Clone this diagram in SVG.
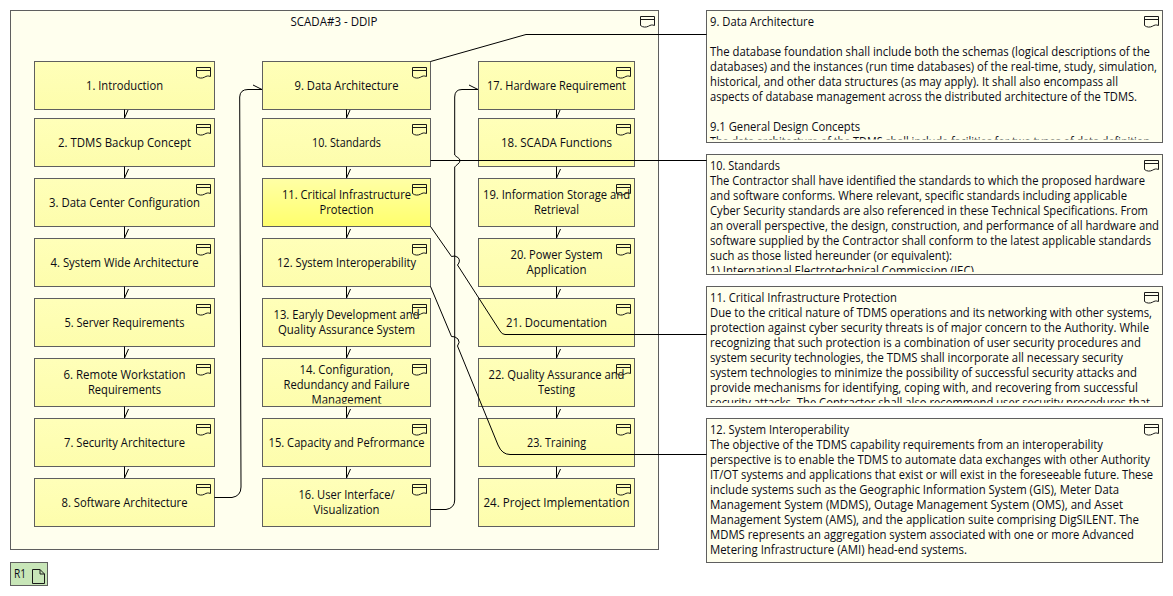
<svg xmlns="http://www.w3.org/2000/svg" xmlns:xlink="http://www.w3.org/1999/xlink" width="1173" height="596" viewBox="0 0 1173 596">
<style>
text{font-family:"Open Sans","Noto Sans","Liberation Sans",sans-serif;font-size:12px;fill:#0a0a14}
.c{text-anchor:middle}
.box{fill:url(#nodeFill);stroke:#5f5f5f;stroke-width:1}
.hot{fill:url(#hotFill);stroke:#5f5f5f;stroke-width:1}
.note{fill:#ffffee;stroke:#5f5f5f;stroke-width:1}
.frame{fill:#ffffee;stroke:#5f5f5f;stroke-width:1}
.icon{fill:none;stroke:#1a1a1a;stroke-width:1}
.line{fill:none;stroke:#000;stroke-width:1}
</style>
<defs>
<linearGradient id="nodeFill" x1="0" y1="0" x2="0" y2="1"><stop offset="0" stop-color="#ffffb9"/><stop offset="1" stop-color="#fdfdac"/></linearGradient>
<linearGradient id="hotFill" x1="0" y1="0" x2="0" y2="1"><stop offset="0" stop-color="#ffffa6"/><stop offset="1" stop-color="#ffff6c"/></linearGradient>
<symbol id="ni" overflow="visible"><path class="icon" d="M.5 .5H14.5V9.5C12 8.5 10.5 9 8.5 10.2C6 11.5 3 11.5 .5 9.5ZM.5 3.5H14.5"/></symbol>
<clipPath id="c1"><rect x="707" y="11" width="455" height="128.5"/></clipPath>
<clipPath id="c2"><rect x="707" y="155" width="455" height="117"/></clipPath>
<clipPath id="c3"><rect x="707" y="287" width="455" height="116"/></clipPath>
<clipPath id="c14"><rect x="263" y="359" width="167" height="44.5"/></clipPath>
</defs>

<g id="frame-ddip">
<rect class="frame" x="10.5" y="10.5" width="648" height="539"/>
<text class="c" x="334" y="26" textLength="87" lengthAdjust="spacingAndGlyphs">SCADA#3 - DDIP</text>
<use href="#ni" x="640" y="16"/>
</g>

<g id="n1"><rect class="box" x="34.5" y="61.5" width="180" height="48"/><text class="c" x="124.5" y="90" textLength="77" lengthAdjust="spacingAndGlyphs">1. Introduction</text><use href="#ni" x="196" y="67"/></g>
<g id="n2"><rect class="box" x="34.5" y="118.5" width="180" height="48"/><text class="c" x="124.5" y="147" textLength="133" lengthAdjust="spacingAndGlyphs">2. TDMS Backup Concept</text><use href="#ni" x="196" y="124"/></g>
<g id="n3"><rect class="box" x="34.5" y="178.5" width="180" height="48"/><text class="c" x="124.5" y="207" textLength="151" lengthAdjust="spacingAndGlyphs">3. Data Center Configuration</text><use href="#ni" x="196" y="184"/></g>
<g id="n4"><rect class="box" x="34.5" y="238.5" width="180" height="48"/><text class="c" x="124.5" y="267" textLength="148" lengthAdjust="spacingAndGlyphs">4. System Wide Architecture</text><use href="#ni" x="196" y="244"/></g>
<g id="n5"><rect class="box" x="34.5" y="298.5" width="180" height="48"/><text class="c" x="124.5" y="327" textLength="120" lengthAdjust="spacingAndGlyphs">5. Server Requirements</text><use href="#ni" x="196" y="304"/></g>
<g id="n6"><rect class="box" x="34.5" y="358.5" width="180" height="48"/><text class="c" x="124.5" y="379" textLength="122" lengthAdjust="spacingAndGlyphs">6. Remote Workstation</text><text class="c" x="124.5" y="394" textLength="73" lengthAdjust="spacingAndGlyphs">Requirements</text><use href="#ni" x="196" y="364"/></g>
<g id="n7"><rect class="box" x="34.5" y="418.5" width="180" height="48"/><text class="c" x="124.5" y="447" textLength="121" lengthAdjust="spacingAndGlyphs">7. Security Architecture</text><use href="#ni" x="196" y="424"/></g>
<g id="n8"><rect class="box" x="34.5" y="478.5" width="180" height="48"/><text class="c" x="124.5" y="507" textLength="126" lengthAdjust="spacingAndGlyphs">8. Software Architecture</text><use href="#ni" x="196" y="484"/></g>

<g id="n9"><rect class="box" x="262.5" y="61.5" width="168" height="48"/><text class="c" x="346.5" y="90" textLength="104" lengthAdjust="spacingAndGlyphs">9. Data Architecture</text><use href="#ni" x="412" y="67"/></g>
<g id="n10"><rect class="box" x="262.5" y="118.5" width="168" height="48"/><text class="c" x="346.5" y="147" textLength="69" lengthAdjust="spacingAndGlyphs">10. Standards</text><use href="#ni" x="412" y="124"/></g>
<g id="n11"><rect class="hot" x="262.5" y="178.5" width="168" height="48"/><text class="c" x="346.5" y="199" textLength="129" lengthAdjust="spacingAndGlyphs">11. Critical Infrastructure</text><text class="c" x="346.5" y="214" textLength="54" lengthAdjust="spacingAndGlyphs">Protection</text><use href="#ni" x="412" y="184"/></g>
<g id="n12"><rect class="box" x="262.5" y="238.5" width="168" height="48"/><text class="c" x="346.5" y="267" textLength="139" lengthAdjust="spacingAndGlyphs">12. System Interoperability</text><use href="#ni" x="412" y="244"/></g>
<g id="n13"><rect class="box" x="262.5" y="298.5" width="168" height="48"/><text class="c" x="346.5" y="319" textLength="146" lengthAdjust="spacingAndGlyphs">13. Earyly Development and</text><text class="c" x="346.5" y="334" textLength="137" lengthAdjust="spacingAndGlyphs">Quality Assurance System</text><use href="#ni" x="412" y="304"/></g>
<g id="n14"><rect class="box" x="262.5" y="358.5" width="168" height="48"/><g clip-path="url(#c14)"><text class="c" x="346.5" y="374" textLength="94" lengthAdjust="spacingAndGlyphs">14. Configuration,</text><text class="c" x="346.5" y="389" textLength="126" lengthAdjust="spacingAndGlyphs">Redundancy and Failure</text><text class="c" x="346.5" y="404" textLength="70" lengthAdjust="spacingAndGlyphs">Management</text></g><use href="#ni" x="412" y="364"/></g>
<g id="n15"><rect class="box" x="262.5" y="418.5" width="168" height="48"/><text class="c" x="346.5" y="447" textLength="156" lengthAdjust="spacingAndGlyphs">15. Capacity and Pefrormance</text><use href="#ni" x="412" y="424"/></g>
<g id="n16"><rect class="box" x="262.5" y="478.5" width="168" height="48"/><text class="c" x="346.5" y="499" textLength="96" lengthAdjust="spacingAndGlyphs">16. User Interface/</text><text class="c" x="346.5" y="514" textLength="66" lengthAdjust="spacingAndGlyphs">Visualization</text><use href="#ni" x="412" y="484"/></g>

<g id="n17"><rect class="box" x="478.5" y="61.5" width="156" height="48"/><text class="c" x="556.5" y="90" textLength="139" lengthAdjust="spacingAndGlyphs">17. Hardware Requirement</text><use href="#ni" x="616" y="67"/></g>
<g id="n18"><rect class="box" x="478.5" y="118.5" width="156" height="48"/><text class="c" x="556.5" y="147" textLength="111" lengthAdjust="spacingAndGlyphs">18. SCADA Functions</text><use href="#ni" x="616" y="124"/></g>
<g id="n19"><rect class="box" x="478.5" y="178.5" width="156" height="48"/><text class="c" x="556.5" y="199" textLength="147" lengthAdjust="spacingAndGlyphs">19. Information Storage and</text><text class="c" x="556.5" y="214" textLength="45" lengthAdjust="spacingAndGlyphs">Retrieval</text><use href="#ni" x="616" y="184"/></g>
<g id="n20"><rect class="box" x="478.5" y="238.5" width="156" height="48"/><text class="c" x="556.5" y="259" textLength="92" lengthAdjust="spacingAndGlyphs">20. Power System</text><text class="c" x="556.5" y="274" textLength="60" lengthAdjust="spacingAndGlyphs">Application</text><use href="#ni" x="616" y="244"/></g>
<g id="n21"><rect class="box" x="478.5" y="298.5" width="156" height="48"/><text class="c" x="556.5" y="327" textLength="101" lengthAdjust="spacingAndGlyphs">21. Documentation</text><use href="#ni" x="616" y="304"/></g>
<g id="n22"><rect class="box" x="478.5" y="358.5" width="156" height="48"/><text class="c" x="556.5" y="379" textLength="136" lengthAdjust="spacingAndGlyphs">22. Quality Assurance and</text><text class="c" x="556.5" y="394" textLength="37" lengthAdjust="spacingAndGlyphs">Testing</text><use href="#ni" x="616" y="364"/></g>
<g id="n23"><rect class="box" x="478.5" y="418.5" width="156" height="48"/><text class="c" x="556.5" y="447" textLength="59" lengthAdjust="spacingAndGlyphs">23. Training</text><use href="#ni" x="616" y="424"/></g>
<g id="n24"><rect class="box" x="478.5" y="478.5" width="156" height="48"/><text class="c" x="556.5" y="507" textLength="146" lengthAdjust="spacingAndGlyphs">24. Project Implementation</text><use href="#ni" x="616" y="484"/></g>

<g id="note9"><rect class="note" x="706.5" y="10.5" width="456" height="132"/><g clip-path="url(#c1)">
<text x="710" y="26" textLength="104" lengthAdjust="spacingAndGlyphs">9. Data Architecture</text>
<text x="710" y="56" textLength="440" lengthAdjust="spacingAndGlyphs">The database foundation shall include both the schemas (logical descriptions of the</text>
<text x="710" y="71" textLength="447" lengthAdjust="spacingAndGlyphs">databases) and the instances (run time databases) of the real-time, study, simulation,</text>
<text x="710" y="86" textLength="408" lengthAdjust="spacingAndGlyphs">historical, and other data structures (as may apply). It shall also encompass all</text>
<text x="710" y="101" textLength="427" lengthAdjust="spacingAndGlyphs">aspects of database management across the distributed architecture of the TDMS.</text>
<text x="710" y="131" textLength="150" lengthAdjust="spacingAndGlyphs">9.1 General Design Concepts</text>
<text x="710" y="146" textLength="440" lengthAdjust="spacingAndGlyphs">The data architecture of the TDMS shall include facilities for two types of data definition</text>
</g><use href="#ni" x="1144" y="16"/></g>

<g id="note10"><rect class="note" x="706.5" y="154.5" width="456" height="120"/><g clip-path="url(#c2)">
<text x="710" y="170" textLength="70" lengthAdjust="spacingAndGlyphs">10. Standards</text>
<text x="710" y="185" textLength="435" lengthAdjust="spacingAndGlyphs">The Contractor shall have identified the standards to which the proposed hardware</text>
<text x="710" y="200" textLength="417" lengthAdjust="spacingAndGlyphs">and software conforms. Where relevant, specific standards including applicable</text>
<text x="710" y="215" textLength="438" lengthAdjust="spacingAndGlyphs">Cyber Security standards are also referenced in these Technical Specifications. From</text>
<text x="710" y="230" textLength="449" lengthAdjust="spacingAndGlyphs">an overall perspective, the design, construction, and performance of all hardware and</text>
<text x="710" y="245" textLength="441" lengthAdjust="spacingAndGlyphs">software supplied by the Contractor shall conform to the latest applicable standards</text>
<text x="710" y="260" textLength="242" lengthAdjust="spacingAndGlyphs">such as those listed hereunder (or equivalent):</text>
<text x="710" y="275" textLength="264" lengthAdjust="spacingAndGlyphs">1) International Electrotechnical Commission (IEC)</text>
</g><use href="#ni" x="1144" y="160"/></g>

<g id="note11"><rect class="note" x="706.5" y="286.5" width="456" height="120"/><g clip-path="url(#c3)">
<text x="710" y="302" textLength="187" lengthAdjust="spacingAndGlyphs">11. Critical Infrastructure Protection</text>
<text x="710" y="317" textLength="442" lengthAdjust="spacingAndGlyphs">Due to the critical nature of TDMS operations and its networking with other systems,</text>
<text x="710" y="332" textLength="439" lengthAdjust="spacingAndGlyphs">protection against cyber security threats is of major concern to the Authority. While</text>
<text x="710" y="347" textLength="431" lengthAdjust="spacingAndGlyphs">recognizing that such protection is a combination of user security procedures and</text>
<text x="710" y="362" textLength="413" lengthAdjust="spacingAndGlyphs">system security technologies, the TDMS shall incorporate all necessary security</text>
<text x="710" y="377" textLength="427" lengthAdjust="spacingAndGlyphs">system technologies to minimize the possibility of successful security attacks and</text>
<text x="710" y="392" textLength="428" lengthAdjust="spacingAndGlyphs">provide mechanisms for identifying, coping with, and recovering from successful</text>
<text x="710" y="407" textLength="440" lengthAdjust="spacingAndGlyphs">security attacks. The Contractor shall also recommend user security procedures that</text>
</g><use href="#ni" x="1144" y="292"/></g>

<g id="note12"><rect class="note" x="706.5" y="418.5" width="456" height="144"/>
<text x="710" y="434" textLength="139" lengthAdjust="spacingAndGlyphs">12. System Interoperability</text>
<text x="710" y="449" textLength="393" lengthAdjust="spacingAndGlyphs">The objective of the TDMS capability requirements from an interoperability</text>
<text x="710" y="464" textLength="440" lengthAdjust="spacingAndGlyphs">perspective is to enable the TDMS to automate data exchanges with other Authority</text>
<text x="710" y="479" textLength="443" lengthAdjust="spacingAndGlyphs">IT/OT systems and applications that exist or will exist in the foreseeable future. These</text>
<text x="710" y="494" textLength="409" lengthAdjust="spacingAndGlyphs">include systems such as the Geographic Information System (GIS), Meter Data</text>
<text x="710" y="509" textLength="413" lengthAdjust="spacingAndGlyphs">Management System (MDMS), Outage Management System (OMS), and Asset</text>
<text x="710" y="524" textLength="429" lengthAdjust="spacingAndGlyphs">Management System (AMS), and the application suite comprising DigSILENT. The</text>
<text x="710" y="539" textLength="424" lengthAdjust="spacingAndGlyphs">MDMS represents an aggregation system associated with one or more Advanced</text>
<text x="710" y="554" textLength="257" lengthAdjust="spacingAndGlyphs">Metering Infrastructure (AMI) head-end systems.</text>
<use href="#ni" x="1144" y="424"/></g>

<g id="r1"><rect x="10.5" y="562.5" width="37" height="23" fill="#c8e6b8" stroke="#5f5f5f"/><text x="14" y="578" textLength="12" lengthAdjust="spacingAndGlyphs">R1</text><path class="icon" d="M32.5 569.5H40L44.5 574V583.5H32.5ZM40 569.5V574H44.5"/></g>

<g id="connectors">
<path class="line" d="M124.5 109.5V118M128 110L124.5 118M124.5 166.5V178M128.5 169L124.5 178M124.5 226.5V238M128.5 229L124.5 238M124.5 286.5V298M128.5 289L124.5 298M124.5 346.5V358M128.5 349L124.5 358M124.5 406.5V418M128.5 409L124.5 418M124.5 466.5V478M128.5 469L124.5 478"/>
<path class="line" d="M346.5 109.5V118M350 110L346.5 118M346.5 166.5V178M350.5 169L346.5 178M346.5 226.5V238M350.5 229L346.5 238M346.5 286.5V298M350.5 289L346.5 298M346.5 346.5V358M350.5 349L346.5 358M346.5 406.5V418M350.5 409L346.5 418M346.5 466.5V478M350.5 469L346.5 478"/>
<path class="line" d="M556.5 109.5V118M560 110L556.5 118M556.5 166.5V178M560.5 169L556.5 178M556.5 226.5V238M560.5 229L556.5 238M556.5 286.5V298M560.5 289L556.5 298M556.5 346.5V358M560.5 349L556.5 358M556.5 406.5V418M560.5 409L556.5 418M556.5 466.5V478M560.5 469L556.5 478"/>
<path class="line" d="M214.5 497.5H232Q241 496 241 487L239.7 97Q240 89.5 248 89.5H262M253 85L262 89.5"/>
<path class="line" d="M430.5 509.5H446Q454.7 508 454.7 500V167C456 165 460 163.5 460 160.5C460 158 456 157 454.7 155V97Q454.7 89.5 462 89.5H478M469 85L478 89.5"/>
<path class="line" d="M430.5 61.5L526 34.5H706.5"/>
<path class="line" d="M430.5 160.5H706.5"/>
<path class="line" d="M430.5 226.5L451.5 256.5Q455 255 458 257.5Q461 261 457.5 265L500 331Q502 334.5 505 334.5H706.5"/>
<path class="line" d="M430.5 286.5L451.5 336.5Q455 336 458 339Q460.5 342 457.5 346L498 445Q502 454.5 510 454.5H706.5"/>
</g>
</svg>
